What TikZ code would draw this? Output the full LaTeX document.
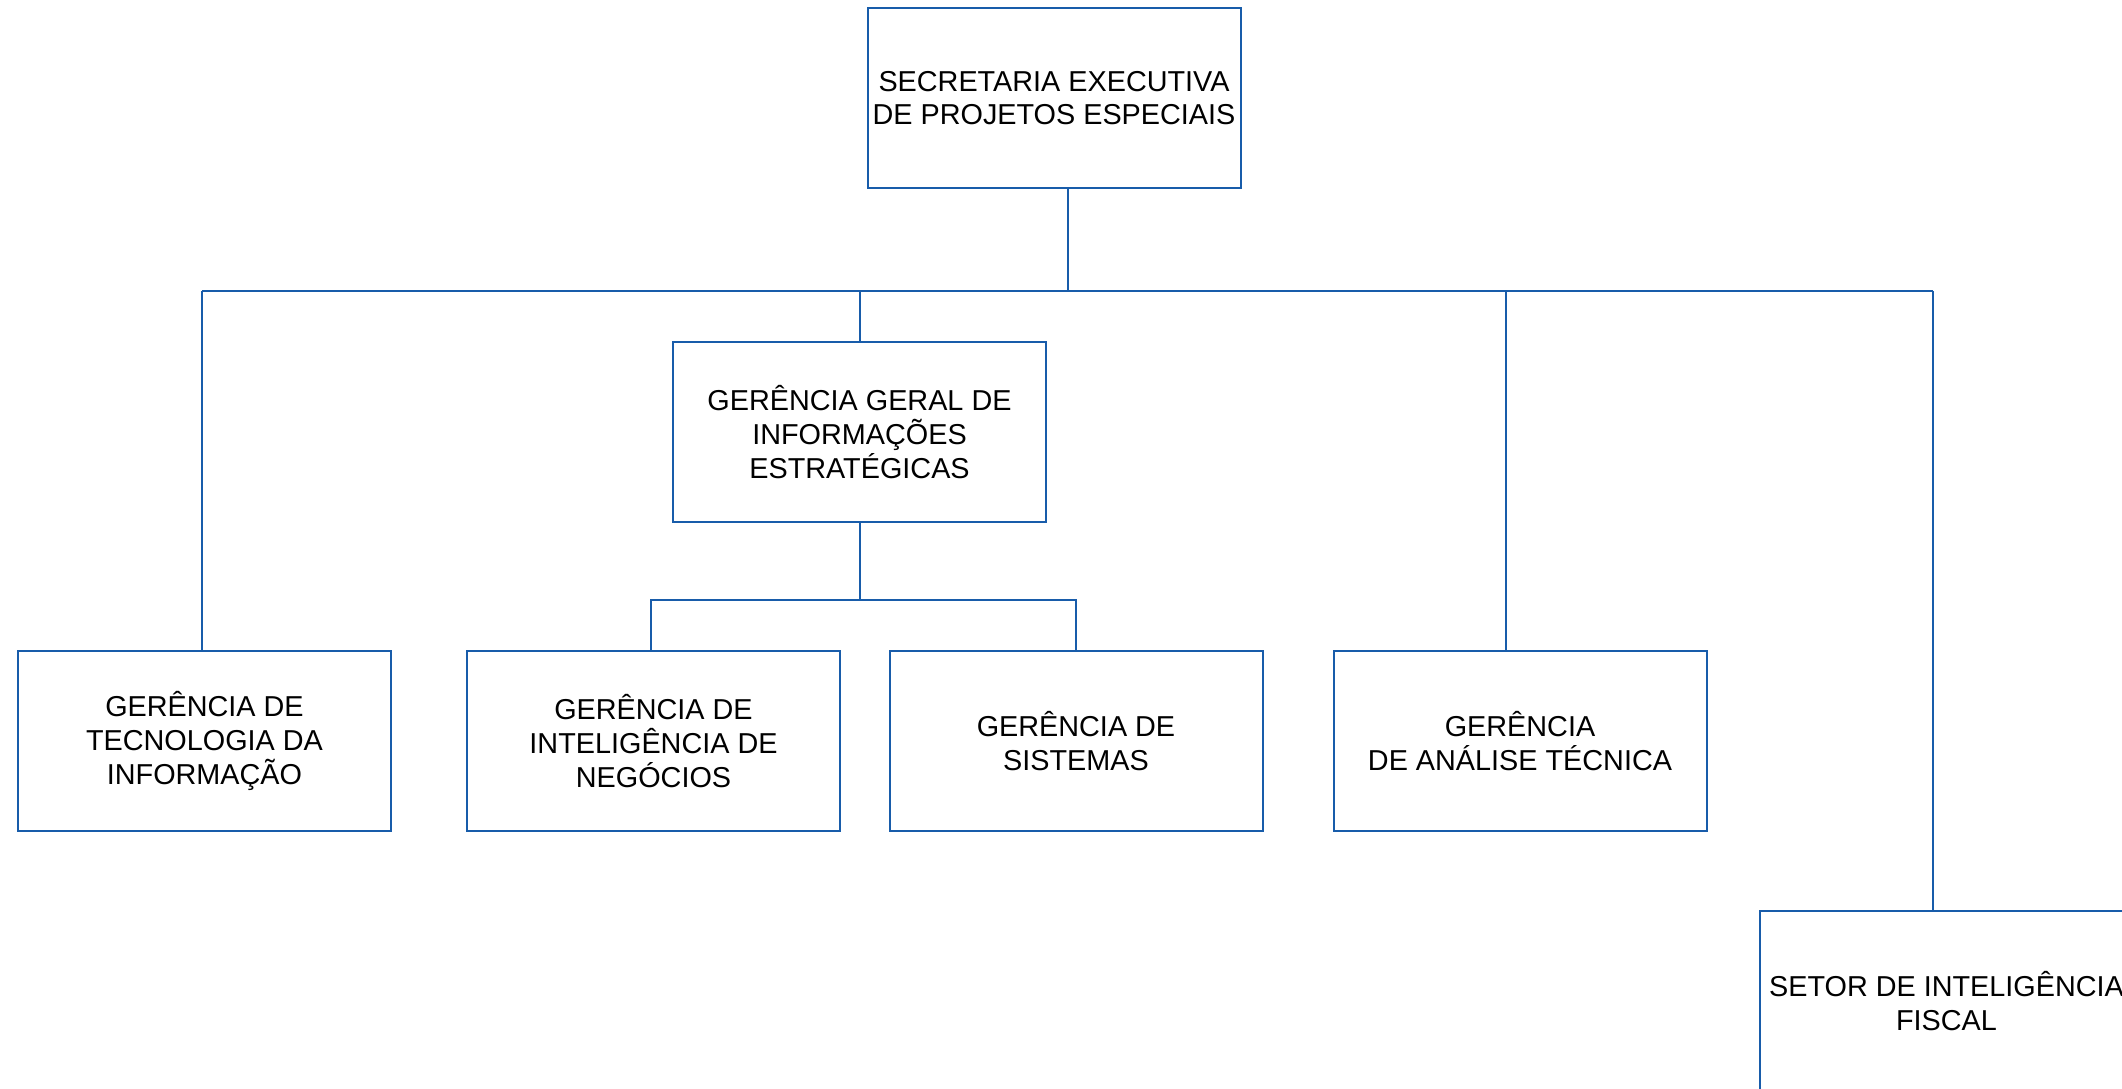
\documentclass[tikz,border=0pt]{standalone}
\usepackage{fontspec}
\setmainfont{Liberation Sans}
\definecolor{orgblue}{RGB}{24,92,170}
\begin{document}
\begin{tikzpicture}[x=0.5pt,y=-0.5pt,
  unit/.style={draw=orgblue,line width=1pt,fill=white,minimum width=186.5pt,minimum height=90pt,
    align=center,inner sep=0pt,font=\fontsize{14.4}{16.9}\selectfont,text=black},
  link/.style={draw=orgblue,line width=1pt}]
\useasboundingbox (0,0) rectangle (2122,1088);
\clip (0,0) rectangle (2122,1088);
\node[unit] (sec) at (1054,98) {SECRETARIA EXECUTIVA\\DE PROJETOS ESPECIAIS};
\node[unit] (ggie) at (859.5,432) {GERÊNCIA GERAL DE\\INFORMAÇÕES\\ESTRATÉGICAS};
\node[unit] (ti) at (204.5,741) {GERÊNCIA DE\\TECNOLOGIA DA\\INFORMAÇÃO};
\node[unit] (gin) at (653.5,741) {GERÊNCIA DE\\INTELIGÊNCIA DE\\NEGÓCIOS};
\node[unit] (gs) at (1076,741) {GERÊNCIA DE\\SISTEMAS};
\node[unit] (gat) at (1520,741) {GERÊNCIA\\DE ANÁLISE TÉCNICA};
\node[unit] (sif) at (1946.5,1001) {SETOR DE INTELIGÊNCIA\\FISCAL};
\coordinate (j0) at (1068,291);
\coordinate (b1) at (202,291);
\coordinate (b2) at (859.5,291);
\coordinate (b4) at (1506,291);
\coordinate (b5) at (1933,291);
\coordinate (s0) at (859.5,600);
\coordinate (s1) at (651,600);
\coordinate (s2) at (1076,600);
\draw[link] (sec.south -| j0) -- (j0);
\draw[link] (b1) -- (b5);
\draw[link] (b1) -- (b1 |- ti.north);
\draw[link] (b2) -- (ggie.north);
\draw[link] (b4) -- (b4 |- gat.north);
\draw[link] (b5) -- (b5 |- sif.north);
\draw[link] (ggie.south) -- (s0);
\draw[link] (s1 |- gin.north) -- (s1) -- (s2) -- (gs.north);
\end{tikzpicture}
\end{document}
